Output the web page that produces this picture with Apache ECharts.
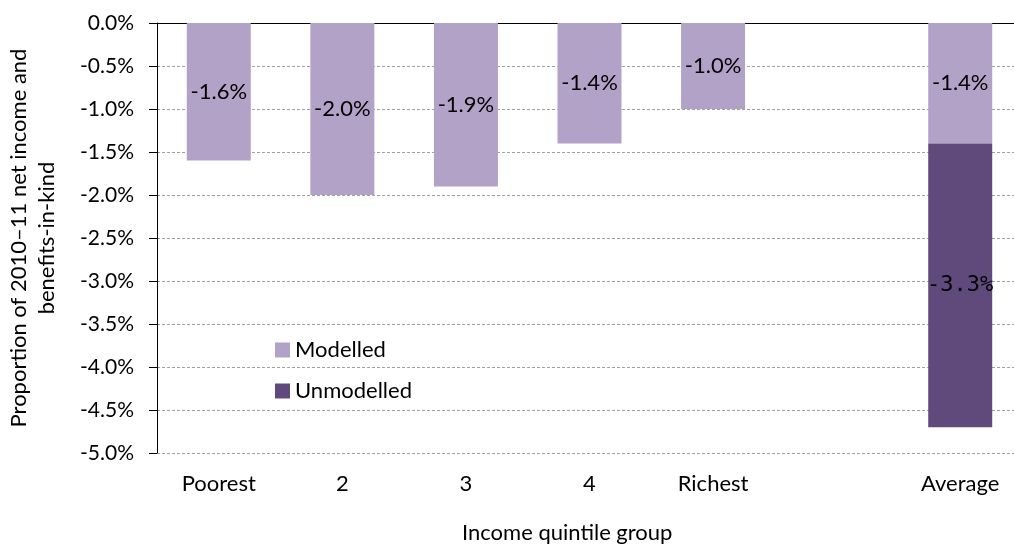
<!DOCTYPE html>
<html>
<head>
<meta charset="utf-8">
<script src="https://cdn.jsdelivr.net/npm/echarts@6/dist/echarts.min.js"></script>
<style>
  html, body { margin: 0; padding: 0; background: #fff; }
  #chart { width: 1014px; height: 547px; }
</style>
</head>
<body>
<div id="chart"></div>
<script>
let categories = ["Poorest", "2", "3", "4", "Richest", "", "Average"];
let modelled = [-1.6, -2.0, -1.9, -1.4, -1.0, null, -1.4];
let unmodelled = [null, null, null, null, null, null, -3.3];
let yTicks = { min: -5, max: 0, step: 0.5 };

let font = "Lato";
let pct = function (v) {
  return v.toFixed(1) + "%";
};

let myChart = echarts.init(document.getElementById("chart"));
let option = {
  animation: false,
  textStyle: { fontFamily: font },
  title: {
    text: "Income quintile group",
    left: 462,
    top: 522,
    padding: 0,
    textStyle: { fontFamily: font, fontSize: 22, fontWeight: "normal", color: "#000" },
  },
  legend: {
    orient: "vertical",
    left: 275,
    top: 339,
    padding: 0,
    itemWidth: 15,
    itemHeight: 15,
    itemGap: 19,
    icon: "rect",
    data: ["Modelled", "Unmodelled"],
    textStyle: { fontFamily: font, fontSize: 22, color: "#000" },
  },
  grid: {
    left: 157,
    top: 23,
    right: -8,
    bottom: 94,
    outerBoundsMode: "none",
  },
  xAxis: [
    {
      type: "category",
      data: categories,
      position: "top",
      axisLine: { onZero: false, lineStyle: { color: "#000", width: 1 } },
      axisTick: { inside: true, length: 7, lineStyle: { color: "#000" } },
      axisLabel: { show: false },
    },
    {
      type: "category",
      data: categories,
      position: "bottom",
      axisLine: { show: false },
      axisTick: { show: false },
      axisLabel: { margin: 20, fontFamily: font, fontSize: 22, color: "#000" },
    },
  ],
  yAxis: {
    type: "value",
    min: yTicks.min,
    max: yTicks.max,
    interval: yTicks.step,
    name: "Proportion of 2010\u201311 net income and\nbenefits-in-kind",
    nameLocation: "middle",
    nameRotate: 90,
    nameGap: 96,
    nameTextStyle: { fontFamily: font, fontSize: 22, color: "#000", lineHeight: 28 },
    axisLine: { show: true, lineStyle: { color: "#000", width: 1 } },
    axisTick: { show: true, length: 8, lineStyle: { color: "#000" } },
    axisLabel: {
      margin: 23,
      fontFamily: font,
      fontSize: 21,
      color: "#000",
      formatter: pct,
    },
    splitLine: { lineStyle: { color: "#a0a0a0", type: [3, 2], width: 1 } },
  },
  series: [
    {
      name: "Modelled",
      type: "bar",
      stack: "total",
      barWidth: 64,
      data: modelled,
      itemStyle: { color: "#B3A2C7" },
      label: {
        show: true,
        position: "inside",
        fontFamily: font,
        fontSize: 22,
        color: "#000",
        formatter: function (p) {
          return pct(p.value);
        },
      },
    },
    {
      name: "Unmodelled",
      type: "bar",
      stack: "total",
      barWidth: 64,
      data: unmodelled,
      itemStyle: { color: "#604A7B" },
      label: {
        show: true,
        position: "inside",
        fontFamily: "DejaVu Sans Mono",
        fontSize: 22,
        color: "#000",
        formatter: function (p) {
          return pct(p.value);
        },
      },
    },
  ],
};
myChart.setOption(option);
</script>
</body>
</html>
